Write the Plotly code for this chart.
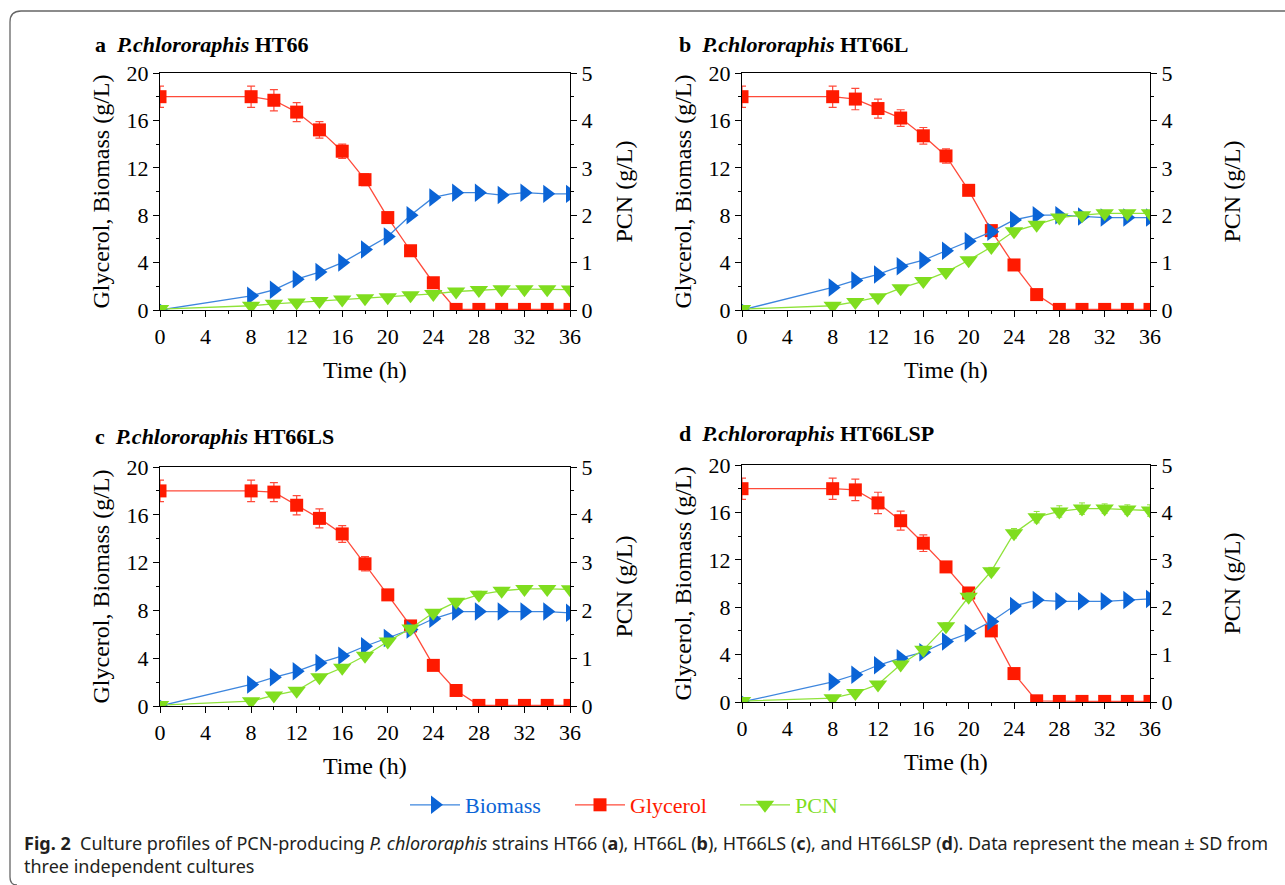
import plotly.graph_objects as go

W, H = 1285, 885

time_h = [0, 8, 10, 12, 14, 16, 18, 20, 22, 24, 26, 28, 30, 32, 34, 36]

# Panel a: HT66
gly_a = [18.0, 18.0, 17.7, 16.7, 15.2, 13.4, 11.0, 7.8, 5.0, 2.3, 0.05, 0.05, 0.05, 0.05, 0.05, 0.05]
gly_a_sd = [0.9, 0.9, 0.9, 0.8, 0.7, 0.6, 0.5, 0.3, 0.2, 0.2, 0, 0, 0, 0, 0, 0]
bio_a = [0.0, 1.2, 1.7, 2.6, 3.2, 4.0, 5.1, 6.2, 8.0, 9.5, 9.9, 9.9, 9.7, 9.9, 9.8, 9.8]
bio_a_sd = [0, 0.2, 0.2, 0.2, 0.2, 0.2, 0.2, 0.2, 0.2, 0.2, 0.2, 0.2, 0.2, 0.2, 0.2, 0.2]
pcn_a = [0.02, 0.09, 0.13, 0.16, 0.19, 0.22, 0.25, 0.27, 0.31, 0.34, 0.39, 0.42, 0.44, 0.44, 0.44, 0.43]
pcn_a_sd = [0, 0.02, 0.02, 0.02, 0.02, 0.03, 0.03, 0.03, 0.03, 0.03, 0.03, 0.03, 0.03, 0.03, 0.03, 0.03]

# Panel b: HT66L
gly_b = [18.0, 18.0, 17.8, 17.0, 16.2, 14.7, 13.0, 10.1, 6.7, 3.8, 1.3, 0.05, 0.05, 0.05, 0.05, 0.05]
gly_b_sd = [0.9, 0.9, 0.9, 0.8, 0.7, 0.7, 0.6, 0.4, 0.3, 0.2, 0.1, 0, 0, 0, 0, 0]
bio_b = [0.0, 1.9, 2.5, 3.0, 3.7, 4.2, 5.0, 5.8, 6.6, 7.6, 8.0, 8.0, 7.9, 7.8, 7.8, 7.8]
bio_b_sd = [0, 0.2, 0.2, 0.2, 0.2, 0.2, 0.2, 0.2, 0.2, 0.2, 0.2, 0.2, 0.2, 0.2, 0.2, 0.2]
pcn_b = [0.02, 0.09, 0.17, 0.27, 0.46, 0.61, 0.80, 1.05, 1.33, 1.66, 1.80, 1.95, 2.00, 2.04, 2.04, 2.04]
pcn_b_sd = [0, 0.03, 0.03, 0.04, 0.04, 0.04, 0.05, 0.05, 0.05, 0.05, 0.05, 0.05, 0.05, 0.05, 0.05, 0.05]

# Panel c: HT66LS
gly_c = [18.0, 18.0, 17.9, 16.8, 15.7, 14.4, 11.9, 9.3, 6.7, 3.4, 1.3, 0.05, 0.05, 0.05, 0.05, 0.05]
gly_c_sd = [0.9, 0.9, 0.8, 0.8, 0.8, 0.7, 0.6, 0.3, 0.3, 0.2, 0.1, 0, 0, 0, 0, 0]
bio_c = [0.0, 1.8, 2.4, 2.9, 3.6, 4.2, 5.0, 5.7, 6.4, 7.3, 7.9, 7.9, 7.9, 7.9, 7.9, 7.8]
bio_c_sd = [0, 0.2, 0.2, 0.2, 0.2, 0.2, 0.2, 0.2, 0.2, 0.2, 0.2, 0.2, 0.2, 0.2, 0.2, 0.2]
pcn_c = [0.02, 0.10, 0.22, 0.32, 0.60, 0.80, 1.05, 1.35, 1.62, 1.95, 2.18, 2.33, 2.41, 2.45, 2.45, 2.44]
pcn_c_sd = [0, 0.03, 0.04, 0.05, 0.05, 0.05, 0.05, 0.05, 0.06, 0.06, 0.07, 0.07, 0.07, 0.06, 0.06, 0.06]

# Panel d: HT66LSP
gly_d = [18.0, 18.0, 17.9, 16.8, 15.3, 13.4, 11.4, 9.2, 6.0, 2.4, 0.1, 0.05, 0.05, 0.05, 0.05, 0.05]
gly_d_sd = [0.9, 0.9, 0.9, 0.9, 0.8, 0.7, 0.3, 0.3, 0.2, 0.2, 0.1, 0, 0, 0, 0, 0]
bio_d = [0.0, 1.7, 2.3, 3.1, 3.7, 4.2, 5.1, 5.8, 6.8, 8.1, 8.6, 8.5, 8.5, 8.5, 8.6, 8.7]
bio_d_sd = [0, 0.2, 0.2, 0.2, 0.2, 0.2, 0.2, 0.2, 0.2, 0.2, 0.2, 0.2, 0.2, 0.2, 0.2, 0.2]
pcn_d = [0.02, 0.08, 0.19, 0.37, 0.79, 1.10, 1.60, 2.22, 2.76, 3.56, 3.90, 4.02, 4.08, 4.08, 4.06, 4.04]
pcn_d_sd = [0, 0.03, 0.05, 0.06, 0.06, 0.06, 0.07, 0.08, 0.08, 0.10, 0.12, 0.12, 0.12, 0.10, 0.10, 0.12]

panel_letters = ["a", "b", "c", "d"]
strain_names = ["HT66", "HT66L", "HT66LS", "HT66LSP"]
series_names = ["Biomass", "Glycerol", "PCN"]

x_ticks = [0, 4, 8, 12, 16, 20, 24, 28, 32, 36]
y_left_ticks = [0, 4, 8, 12, 16, 20]
y_right_ticks = [0, 1, 2, 3, 4, 5]

BLUE = "#0B64D6"
BLUE_L = "#3D86DE"
RED = "#FF1A00"
RED_L = "#FF4A3A"
GREEN = "#7FDD1E"
GREEN_L = "#8FE33A"
SERIF = "Liberation Serif"

panels = [
    (gly_a, gly_a_sd, bio_a, bio_a_sd, pcn_a, pcn_a_sd),
    (gly_b, gly_b_sd, bio_b, bio_b_sd, pcn_b, pcn_b_sd),
    (gly_c, gly_c_sd, bio_c, bio_c_sd, pcn_c, pcn_c_sd),
    (gly_d, gly_d_sd, bio_d, bio_d_sd, pcn_d, pcn_d_sd),
]

# plot area pixel boxes: (left, right, top, bottom) and right-title offsets
boxes = [(160, 570, 73, 310), (742, 1150, 73, 310), (160, 570, 467, 706), (742, 1150, 465, 702)]
right_title_off = [53, 81, 53, 81]

def px(x):
    return x / W

def py(y):
    return 1 - y / H

def legend_name(label, color):
    return f"<span style=\"color:{color};font-family:'Liberation Serif', serif\">{label}</span>"

fig = go.Figure()
layout = dict(
    template="none",
    width=W, height=H, autosize=False,
    margin=dict(l=0, r=0, t=0, b=0, pad=0, autoexpand=False),
    paper_bgcolor="white", plot_bgcolor="white",
    font=dict(family=SERIF, color="black", size=20),
    showlegend=True,
    legend=dict(orientation="h", x=px(405), xanchor="left", y=py(805), yanchor="middle",
                font=dict(family="Liberation Serif, serif", size=22), bgcolor="rgba(0,0,0,0)",
                itemsizing="trace", itemwidth=50, tracegroupgap=0,
                entrywidthmode="pixels", entrywidth=100),
)
annotations = []
shapes = []

for i, (gly, gly_sd, bio, bio_sd, pcn, pcn_sd) in enumerate(panels):
    l, r, t, b = boxes[i]
    xa = "xaxis" if i == 0 else f"xaxis{i+1}"
    xref = "x" if i == 0 else f"x{i+1}"
    yl_n = 2 * i + 1
    yr_n = 2 * i + 2
    yl_key = "yaxis" if yl_n == 1 else f"yaxis{yl_n}"
    yl_ref = "y" if yl_n == 1 else f"y{yl_n}"
    yr_key = f"yaxis{yr_n}"
    yr_ref = f"y{yr_n}"
    common = dict(showline=True, linecolor="black", linewidth=1.2, ticks="outside",
                  ticklen=6, tickwidth=1.2, tickcolor="black", showgrid=False, zeroline=False,
                  automargin=False,
                  tickfont=dict(family=SERIF, size=22, color="black"))
    layout[xa] = dict(common, domain=[px(l), px(r)], range=[0, 36], tickvals=x_ticks,
                      anchor=yl_ref, mirror=True,
                      minor=dict(ticks="outside", ticklen=3, tickwidth=1, tickcolor="black", dtick=2, tick0=0))
    layout[yl_key] = dict(common, domain=[py(b), py(t)], range=[0, 20], tickvals=y_left_ticks,
                          anchor=xref,
                          minor=dict(ticks="outside", ticklen=3, tickwidth=1, tickcolor="black", dtick=2, tick0=0))
    layout[yr_key] = dict(common, domain=[py(b), py(t)], range=[0, 5], tickvals=y_right_ticks,
                          anchor=xref, overlaying=yl_ref, side="right",
                          minor=dict(ticks="outside", ticklen=3, tickwidth=1, tickcolor="black", dtick=0.5, tick0=0))

    show = i == 0
    fig.add_trace(go.Scatter(
        x=time_h, y=gly, xaxis=xref, yaxis=yl_ref, mode="lines+markers",
        name=legend_name(series_names[1], RED),
        legendrank=2, showlegend=show,
        line=dict(color=RED_L, width=1.3),
        marker=dict(symbol="square", size=13, color=RED),
        error_y=dict(type="data", array=gly_sd, color=RED_L, thickness=1.2, width=4)))
    fig.add_trace(go.Scatter(
        x=time_h, y=bio, xaxis=xref, yaxis=yl_ref, mode="lines+markers",
        name=legend_name(series_names[0], BLUE),
        legendrank=1, showlegend=show,
        line=dict(color=BLUE_L, width=1.3),
        marker=dict(symbol="triangle-right", size=16, color=BLUE),
        error_y=dict(type="data", array=bio_sd, color=BLUE_L, thickness=1, width=3)))
    fig.add_trace(go.Scatter(
        x=time_h, y=pcn, xaxis=xref, yaxis=yr_ref, mode="lines+markers",
        name=legend_name(series_names[2], GREEN),
        legendrank=3, showlegend=show,
        line=dict(color=GREEN_L, width=1.3),
        marker=dict(symbol="triangle-down", size=16, color=GREEN),
        error_y=dict(type="data", array=pcn_sd, color=GREEN_L, thickness=1, width=3)))

    # panel title
    lab_x = 93 if i % 2 == 0 else 677
    lab_y = [44, 44, 436, 433][i]
    annotations.append(dict(
        text=f"<b>{panel_letters[i]}</b>  <b><i>P.chlororaphis</i> {strain_names[i]}</b>",
        x=px(lab_x), y=py(lab_y), xref="paper", yref="paper", xanchor="left", yanchor="middle",
        showarrow=False, font=dict(family=SERIF, size=22, color="black")))
    # axis titles
    cx = (l + r) / 2
    annotations.append(dict(text="Time (h)", x=px(cx), y=py(b + 60), xref="paper", yref="paper",
                            xanchor="center", yanchor="middle", showarrow=False,
                            font=dict(family=SERIF, size=24, color="black")))
    annotations.append(dict(text="Glycerol, Biomass (g/L)", x=px(l - 60), y=py((t + b) / 2),
                            xref="paper", yref="paper", xanchor="center", yanchor="middle",
                            textangle=-90, showarrow=False,
                            font=dict(family=SERIF, size=24, color="black")))
    annotations.append(dict(text="PCN (g/L)", x=px(r + right_title_off[i]), y=py((t + b) / 2),
                            xref="paper", yref="paper", xanchor="center", yanchor="middle",
                            textangle=-90, showarrow=False,
                            font=dict(family=SERIF, size=24, color="black")))

# caption
CAP = "Noto Sans"
annotations.append(dict(
    text="<b>Fig. 2</b>  Culture profiles of PCN-producing <i>P. chlororaphis</i> strains HT66 (<b>a</b>), "
         "HT66L (<b>b</b>), HT66LS (<b>c</b>), and HT66LSP (<b>d</b>). Data represent the mean ± SD from",
    x=px(22), y=py(843), xref="paper", yref="paper", xanchor="left", yanchor="middle",
    showarrow=False, font=dict(family=CAP, size=18, color="#231F20")))
annotations.append(dict(
    text="three independent cultures",
    x=px(22), y=py(866), xref="paper", yref="paper", xanchor="left", yanchor="middle",
    showarrow=False, font=dict(family=CAP, size=18, color="#231F20")))

# frame with rounded left corners
path = (f"M {px(1290)},{py(11)} L {px(21)},{py(11)} Q {px(10)},{py(11)} {px(10)},{py(22)} "
        f"L {px(10)},{py(877)} Q {px(10)},{py(885)} {px(17)},{py(885)}")
shapes.append(dict(type="path", path=path, xref="paper", yref="paper",
                   line=dict(color="#666666", width=1.3)))

layout["annotations"] = annotations
layout["shapes"] = shapes
fig.update_layout(**layout)

fig.write_html("out.html", config={"displayModeBar": False},
               post_script="document.body.style.margin='0';document.body.style.overflow='hidden';")
